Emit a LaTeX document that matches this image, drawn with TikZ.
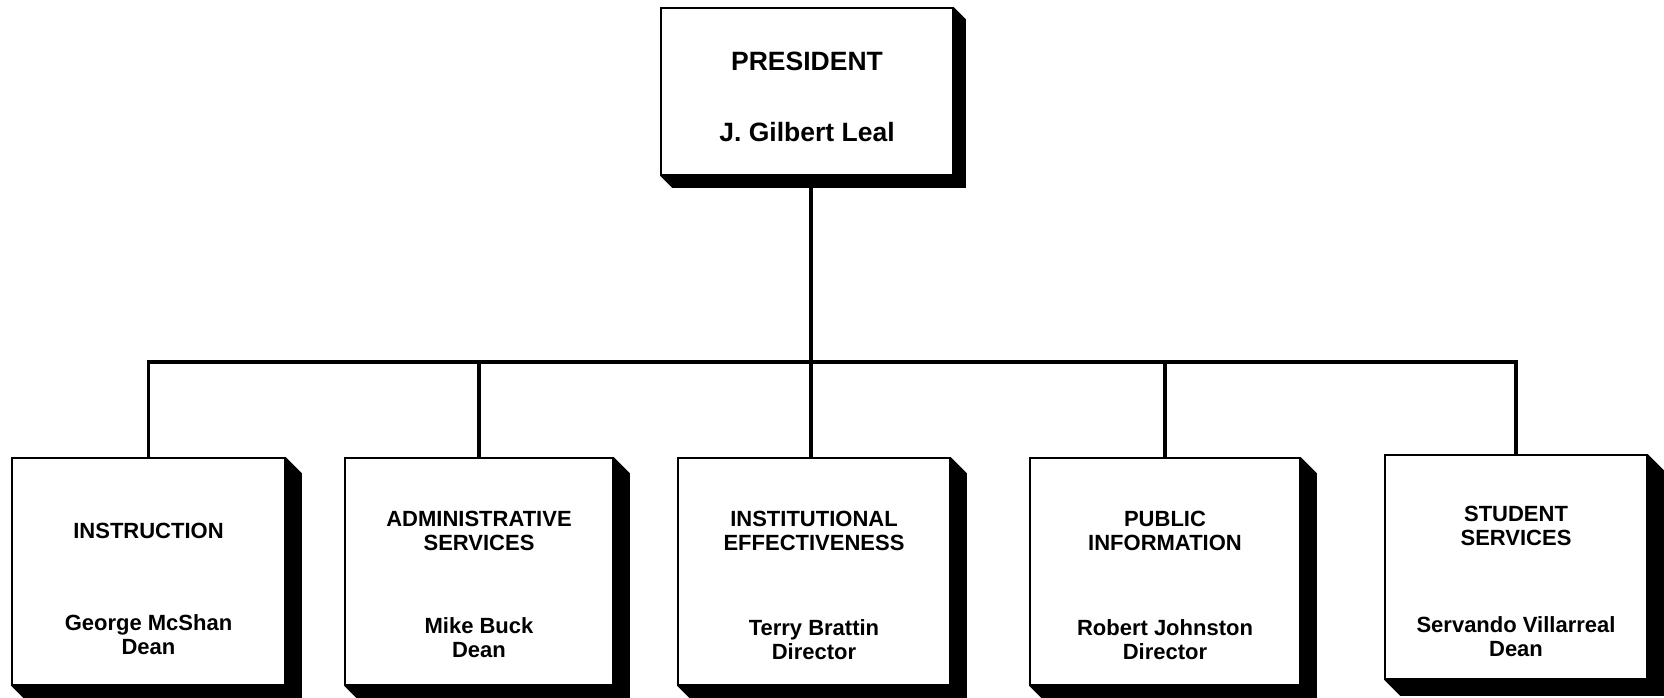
\documentclass[tikz,border=0pt]{standalone}
\usepackage{fontspec}
\setmainfont{Liberation Sans}
\usetikzlibrary{calc,backgrounds}
\tikzset{
  orgbox/.style={draw=black, line width=1.6pt, fill=white, inner sep=0pt},
  lbl/.style={anchor=north, inner sep=0pt, align=center, font=\fontsize{22}{24}\selectfont\bfseries},
  plbl/.style={anchor=north, inner sep=0pt, align=center, font=\fontsize{26.5}{29}\selectfont\bfseries},
  link/.style={line width=3.6pt, line cap=butt}
}
\newcommand\boxshade[2]{%
  \fill[black] (#1.north east) -- ++(#2,#2) -- ($(#1.south east)+(#2,#2)$) -- ($(#1.south west)+(#2,#2)$) -- (#1.south west) -- (#1.south east) -- cycle;}
\begin{document}
\begin{tikzpicture}[x=1pt,y=-1pt]
\useasboundingbox (0,0) rectangle (1664,697);

% boxes
\node[orgbox, minimum width=292pt, minimum height=167pt] (pres) at (807,91.5) {};
\node[orgbox, minimum width=273pt, minimum height=227pt] (b1) at (148.5,571.5) {};
\node[orgbox, minimum width=268pt, minimum height=227pt] (b2) at (479,571.5) {};
\node[orgbox, minimum width=272pt, minimum height=227pt] (b3) at (814,571.5) {};
\node[orgbox, minimum width=270pt, minimum height=227pt] (b4) at (1165,571.5) {};
\node[orgbox, minimum width=262pt, minimum height=224pt] (b5) at (1516,567) {};

% texts
\node[plbl] (pt1) at (pres.center |- 0,52) {PRESIDENT};
\node[plbl] (pt2) at (pres.center |- 0,122) {J. Gilbert Leal};

\node[lbl] (t1) at (b1.center |- 0,523) {INSTRUCTION};
\node[lbl] (n1) at (b1.center |- 0,614) {George McShan\\Dean};

\node[lbl] (t2) at (b2.center |- 0,511) {ADMINISTRATIVE\\SERVICES};
\node[lbl] (n2) at (b2.center |- 0,617) {Mike Buck\\Dean};

\node[lbl] (t3) at (b3.center |- 0,511) {INSTITUTIONAL\\EFFECTIVENESS};
\node[lbl] (n3) at (b3.center |- 0,619) {Terry Brattin\\Director};

\node[lbl] (t4) at (b4.center |- 0,511) {PUBLIC\\INFORMATION};
\node[lbl] (n4) at (b4.center |- 0,619) {Robert Johnston\\Director};

\node[lbl] (t5) at (b5.center |- 0,506) {STUDENT\\SERVICES};
\node[lbl] (n5) at (b5.center |- 0,616) {Servando Villarreal\\Dean};

\coordinate (bus) at (811,362);
\begin{scope}[on background layer]
\fill[white] (0,0) rectangle (1664,697);
\boxshade{pres}{12}
\boxshade{b1}{16}
\boxshade{b2}{16}
\boxshade{b3}{16}
\boxshade{b4}{16}
\boxshade{b5}{16}
% connectors
\draw[link] (pres.south -| bus) -- (bus |- b3.north);
\draw[link] (b1.north) -- (b1.north |- bus) -- (b5.north |- bus) -- (b5.north);
\draw[link] (b2.north) -- (b2.north |- bus);
\draw[link] (b4.north) -- (b4.north |- bus);
\end{scope}
\end{tikzpicture}
\end{document}
